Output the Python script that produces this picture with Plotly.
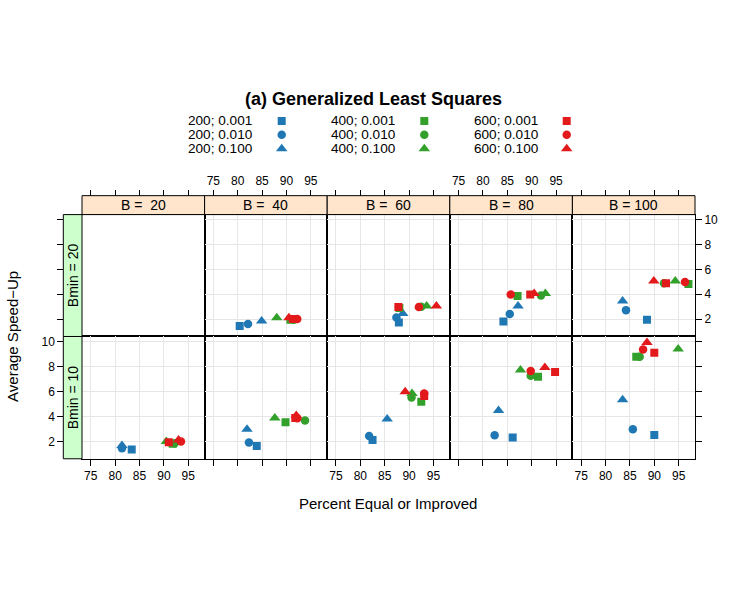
import plotly.graph_objects as go

# series: n; alpha  (order = blue sq, blue circ, blue tri, green..., red...)
series = ["200; 0.001", "200; 0.010", "200; 0.100",
          "400; 0.001", "400; 0.010", "400; 0.100",
          "600; 0.001", "600; 0.010", "600; 0.100"]
colors = ["#1F78B4"] * 3 + ["#33A02C"] * 3 + ["#E31A1C"] * 3
symbols = ["square", "circle", "triangle-up"] * 3
sizes = [8, 8.5, 10] * 3

b_levels = [20, 40, 60, 80, 100]
bmin_levels = [10, 20]

# percent equal or improved / average speed-up, per panel (Bmin, B)
pct_10_20 = [83.4, 81.4, 81.4, 91.8, 92.2, 90.5, 91.0, 93.5, 93.0]
spd_10_20 = [1.34, 1.44, 1.66, 1.80, 1.85, 1.98, 1.92, 1.98, 2.10]
pct_10_40 = [83.9, 82.3, 81.9, 89.8, 93.8, 87.6, 91.8, 92.2, 92.0]
spd_10_40 = [1.63, 1.90, 2.96, 3.52, 3.66, 3.87, 3.87, 3.85, 4.06]
pct_10_60 = [82.5, 81.8, 85.5, 92.5, 90.5, 90.6, 93.1, 93.1, 89.2]
spd_10_60 = [2.11, 2.43, 3.79, 5.18, 5.52, 5.84, 5.63, 5.84, 5.98]
pct_10_80 = [86.1, 82.4, 83.2, 91.3, 89.8, 87.7, 94.8, 89.8, 92.7]
spd_10_80 = [2.30, 2.48, 4.46, 7.18, 7.26, 7.71, 7.55, 7.63, 7.92]
pct_10_100 = [90.0, 85.6, 83.5, 86.3, 87.0, 94.9, 90.0, 87.7, 88.5]
spd_10_100 = [2.51, 2.96, 5.34, 8.78, 8.78, 9.39, 9.10, 9.36, 9.92]
pct_20_40 = [80.4, 82.1, 84.9, 90.8, 91.5, 88.0, 91.3, 92.2, 90.5]
spd_20_40 = [1.44, 1.60, 1.85, 1.95, 1.95, 2.10, 2.00, 2.00, 2.10]
pct_20_60 = [87.9, 87.4, 88.7, 88.0, 92.5, 93.6, 87.8, 92.0, 95.6]
spd_20_60 = [1.73, 2.13, 2.45, 2.90, 3.00, 3.06, 2.98, 2.98, 3.06]
pct_20_80 = [84.2, 85.5, 87.2, 87.1, 91.9, 92.8, 89.7, 85.7, 90.5]
spd_20_80 = [1.80, 2.40, 3.06, 3.86, 3.90, 4.05, 3.97, 3.97, 4.05]
pct_20_100 = [88.5, 84.2, 83.5, 97.0, 92.0, 94.3, 92.4, 96.3, 89.9]
spd_20_100 = [1.94, 2.72, 3.46, 4.82, 4.88, 5.06, 4.88, 4.98, 5.06]

panels = {
    (10, 20): (pct_10_20, spd_10_20), (10, 40): (pct_10_40, spd_10_40),
    (10, 60): (pct_10_60, spd_10_60), (10, 80): (pct_10_80, spd_10_80),
    (10, 100): (pct_10_100, spd_10_100),
    (20, 40): (pct_20_40, spd_20_40), (20, 60): (pct_20_60, spd_20_60),
    (20, 80): (pct_20_80, spd_20_80), (20, 100): (pct_20_100, spd_20_100),
}

W, H = 747, 607
def px(x): return x / W
def py(y): return 1 - y / H

FONT = "Liberation Sans, Arial, sans-serif"
GRID = "#E6E6E6"
XR = [73.2, 98.35]
YR = [0.6, 10.4]
col_edges = [82, 204.6, 327.2, 449.8, 572.4, 695]
row_edges = [213.3, 335.6, 458.3]   # top row (Bmin=20), bottom row (Bmin=10)
strip_top = 194.3
strip_left = 63.3

fig = go.Figure()
layout = dict(width=W, height=H, margin=dict(l=0, r=0, t=0, b=0),
              paper_bgcolor="white", plot_bgcolor="rgba(0,0,0,0)", showlegend=False,
              font=dict(family=FONT, size=12, color="black"))
shapes, annotations = [], []

def ax_id(r, c): return r * 5 + c + 1

def note(text, x, y, size, **kw):
    d = dict(text=text, xref="paper", yref="paper", x=px(x), y=py(y), showarrow=False,
             xanchor="center", yanchor="middle", font=dict(size=size))
    d.update(kw)
    annotations.append(d)

def dummy(xa, ya):
    fig.add_trace(go.Scatter(x=[None], y=[None], xaxis=xa, yaxis=ya, hoverinfo="skip"))

for r in range(2):
    bmin = bmin_levels[1 - r]
    for c in range(5):
        k = ax_id(r, c)
        b = b_levels[c]
        has_data = (bmin, b) in panels
        layout["xaxis%d" % k] = dict(
            domain=[px(col_edges[c]), px(col_edges[c + 1])], anchor="y%d" % k,
            range=XR, tickvals=[75, 80, 85, 90, 95], showgrid=has_data, gridcolor=GRID,
            zeroline=False, showline=True, mirror=True, linecolor="black", linewidth=1,
            ticks="outside" if r == 1 else "", ticklen=6, tickcolor="black",
            showticklabels=(r == 1 and c in (0, 2, 4)), tickfont=dict(size=12))
        layout["yaxis%d" % k] = dict(
            domain=[py(row_edges[r + 1]), py(row_edges[r])], anchor="x%d" % k,
            range=YR, tickvals=[2, 4, 6, 8, 10], showgrid=has_data, gridcolor=GRID,
            zeroline=False, showline=True, mirror=True, linecolor="black", linewidth=1,
            ticks="", showticklabels=False)
        if has_data:
            xs, ys = panels[(bmin, b)]
            for i in range(9):
                fig.add_trace(go.Scatter(
                    x=[xs[i]], y=[ys[i]], mode="markers", name=series[i],
                    xaxis="x%d" % k, yaxis="y%d" % k, hoverinfo="x+y+name",
                    marker=dict(color=colors[i], symbol=symbols[i], size=sizes[i], line=dict(width=0))))
        else:
            dummy("x%d" % k, "y%d" % k)

# top tick axes above the strips
for c in range(5):
    layout["xaxis%d" % (20 + c)] = dict(
        overlaying="x%d" % ax_id(0, c), anchor="free", position=py(strip_top), side="top",
        range=XR, tickvals=[75, 80, 85, 90, 95], showgrid=False, zeroline=False, showline=False,
        ticks="outside", ticklen=6, tickcolor="black", showticklabels=c in (1, 3),
        tickfont=dict(size=12))
    dummy("x%d" % (20 + c), "y%d" % ax_id(0, c))
# left / right tick axes
for r in range(2):
    layout["yaxis%d" % (30 + r)] = dict(
        overlaying="y%d" % ax_id(r, 0), anchor="free", position=px(strip_left), side="left",
        range=YR, tickvals=[2, 4, 6, 8, 10], showgrid=False, zeroline=False, showline=False,
        ticks="outside", ticklen=6, tickcolor="black", showticklabels=(r == 1),
        tickfont=dict(size=12))
    dummy("x%d" % ax_id(r, 0), "y%d" % (30 + r))
    layout["yaxis%d" % (40 + r)] = dict(
        overlaying="y%d" % ax_id(r, 4), anchor="free", position=px(col_edges[5]), side="right",
        range=YR, tickvals=[2, 4, 6, 8, 10], showgrid=False, zeroline=False, showline=False,
        ticks="outside", ticklen=6, tickcolor="black", showticklabels=(r == 0),
        tickfont=dict(size=12))
    dummy("x%d" % ax_id(r, 4), "y%d" % (40 + r))

# strips
for c in range(5):
    shapes.append(dict(type="rect", xref="paper", yref="paper",
                       x0=px(col_edges[c]), x1=px(col_edges[c + 1]), y0=py(row_edges[0]), y1=py(strip_top),
                       fillcolor="#FFE5CC", line=dict(color="black", width=1), layer="above"))
    lab = "B = %3d" % b_levels[c]
    note(lab.replace("  ", " \u00a0"), (col_edges[c] + col_edges[c + 1]) / 2,
         (strip_top + row_edges[0]) / 2, 14)
for r in range(2):
    shapes.append(dict(type="rect", xref="paper", yref="paper",
                       x0=px(strip_left), x1=px(col_edges[0]), y0=py(row_edges[r + 1]), y1=py(row_edges[r]),
                       fillcolor="#CCFFCC", line=dict(color="black", width=1), layer="above"))
    note("Bmin = %d" % bmin_levels[1 - r], (strip_left + col_edges[0]) / 2,
         (row_edges[r] + row_edges[r + 1]) / 2, 14, textangle=-90)

# title and axis titles
note("<b>(a) Generalized Least Squares</b>", 373, 97, 18)
note("Percent Equal or Improved", 388, 503, 15)
note("Average Speed\u2212Up", 13, 336, 15, textangle=-90)

# key: text followed by symbol, three columns
key_text_x = [186, 329, 471.7]
key_sym_x = [281.7, 424.3, 566.7]
key_y = [119.3, 133.3, 147.3]
for i in range(9):
    g, j = divmod(i, 3)
    note(series[i], key_text_x[g], key_y[j], 13.6, xanchor="left")
layout["xaxis50"] = dict(domain=[px(170), px(590)], anchor="y50", range=[170, 590], visible=False, fixedrange=True)
layout["yaxis50"] = dict(domain=[py(160), py(105)], anchor="x50", range=[160, 105], visible=False, fixedrange=True)
for i in range(9):
    g, j = divmod(i, 3)
    fig.add_trace(go.Scatter(x=[key_sym_x[g]], y=[key_y[j]], xaxis="x50", yaxis="y50", mode="markers",
                             hoverinfo="skip",
                             marker=dict(color=colors[i], symbol=symbols[i], size=sizes[i], line=dict(width=0))))

layout["shapes"] = shapes
layout["annotations"] = annotations
fig.update_layout(**layout)
fig.write_html("out.html", config={"displayModeBar": False},
               post_script="document.body.style.margin = '0';")
